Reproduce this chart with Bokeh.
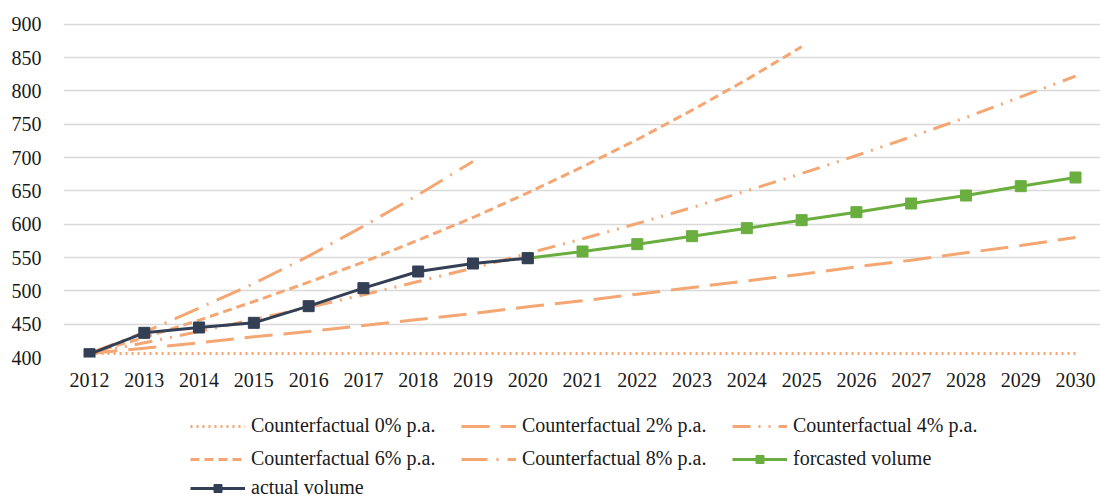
from bokeh.plotting import figure
from bokeh.models import Range1d, FixedTicker, Legend, LegendItem
from bokeh.layouts import column
from bokeh.embed import file_html
from bokeh.resources import INLINE

years = [2012, 2013, 2014, 2015, 2016, 2017, 2018, 2019, 2020, 2021,
         2022, 2023, 2024, 2025, 2026, 2027, 2028, 2029, 2030]
y_ticks = [400, 450, 500, 550, 600, 650, 700, 750, 800, 850, 900]

cf0 = [406] * 19
cf2 = [406, 414, 422, 431, 439, 448, 457, 466, 476, 485, 495, 505, 515, 525, 536, 546, 557, 568, 580]
cf4 = [406, 422, 439, 457, 475, 494, 514, 534, 556, 578, 601, 625, 650, 676, 703, 731, 760, 791, 822]
cf6_years = years[:14]
cf6 = [406, 430, 456, 484, 513, 543, 576, 610, 647, 686, 727, 771, 817, 866]
cf8_years = years[:8]
cf8 = [406, 438, 474, 511, 552, 597, 644, 694]

actual_years = years[:9]
actual = [405, 437, 445, 452, 477, 504, 529, 541, 549]
forecast_years = years[8:]
forecast = [549, 559, 570, 582, 594, 606, 618, 631, 643, 657, 670]

FONT = "Liberation Serif"
ORANGE = "#F4A673"
NAVY = "#333F55"
GREEN = "#6AAE3F"
FS = "20px"

DASH = {"0": "2 4", "2": "28 11", "4": "18 8 2 8 2 8", "6": "9 5", "8": "26 9 2 9"}

p = figure(width=1100, height=391, output_backend="svg", toolbar_location=None,
           x_range=Range1d(2011.525, 2030.456), y_range=Range1d(400, 910),
           min_border_left=63, min_border_top=17, min_border_right=0, min_border_bottom=34)
p.outline_line_color = None
p.xgrid.grid_line_color = None
p.ygrid.grid_line_color = "#D9D9D9"
p.ygrid.grid_line_width = 1.5
p.yaxis.ticker = FixedTicker(ticks=y_ticks)
p.xaxis.ticker = FixedTicker(ticks=years)
for ax in (p.xaxis[0], p.yaxis[0]):
    ax.axis_line_color = None
    ax.major_tick_line_color = None
    ax.minor_tick_line_color = None
    ax.major_label_text_font = FONT
    ax.major_label_text_font_size = FS
    ax.major_label_text_color = "#1a1a1a"
p.yaxis.major_label_standoff = 16
p.xaxis.major_label_standoff = 9

p.line(years, cf0, line_color=ORANGE, line_width=3, line_dash=DASH["0"])
p.line(years, cf2, line_color=ORANGE, line_width=3, line_dash=DASH["2"])
p.line(years, cf4, line_color=ORANGE, line_width=3, line_dash=DASH["4"])
p.line(cf6_years, cf6, line_color=ORANGE, line_width=3, line_dash=DASH["6"])
p.line(cf8_years, cf8, line_color=ORANGE, line_width=3, line_dash=DASH["8"])
p.line(forecast_years, forecast, line_color=GREEN, line_width=3)
p.scatter(forecast_years, forecast, marker="square", size=11, color=GREEN)
p.line(actual_years, actual, line_color=NAVY, line_width=3)
p.scatter(actual_years, actual, marker="square", size=11, color=NAVY)

# legend strip below the chart (renderers hold a single off-screen point)
lf = figure(width=1100, height=108, output_backend="svg", toolbar_location=None,
            x_range=Range1d(0, 1), y_range=Range1d(0, 1),
            min_border=0, min_border_left=0, min_border_right=0,
            min_border_top=0, min_border_bottom=0,
            x_axis_location=None, y_axis_location=None)
lf.outline_line_color = None
lf.grid.visible = False
e = [-5]
l0 = lf.line(e, e, line_color=ORANGE, line_width=3, line_dash=DASH["0"])
l2 = lf.line(e, e, line_color=ORANGE, line_width=3, line_dash=DASH["2"])
l4 = lf.line(e, e, line_color=ORANGE, line_width=3, line_dash=DASH["4"])
l6 = lf.line(e, e, line_color=ORANGE, line_width=3, line_dash=DASH["6"])
l8 = lf.line(e, e, line_color=ORANGE, line_width=3, line_dash=DASH["8"])
lfl = lf.line(e, e, line_color=GREEN, line_width=3)
lfm = lf.scatter(e, e, marker="square", size=11, color=GREEN)
lal = lf.line(e, e, line_color=NAVY, line_width=3)
lam = lf.scatter(e, e, marker="square", size=11, color=NAVY)

def mk_legend(items, y):
    return Legend(items=items, orientation="horizontal", location=(127, y),
                  border_line_color=None, background_fill_alpha=0,
                  label_text_font=FONT, label_text_font_size=FS,
                  label_text_color="#1a1a1a",
                  glyph_width=55, glyph_height=20, label_height=20, label_standoff=6,
                  label_width=210, spacing=0, padding=0, margin=0)

lf.add_layout(mk_legend([LegendItem(label="Counterfactual 0% p.a.", renderers=[l0]),
                         LegendItem(label="Counterfactual 2% p.a.", renderers=[l2]),
                         LegendItem(label="Counterfactual 4% p.a.", renderers=[l4])], 62), "center")
lf.add_layout(mk_legend([LegendItem(label="Counterfactual 6% p.a.", renderers=[l6]),
                         LegendItem(label="Counterfactual 8% p.a.", renderers=[l8]),
                         LegendItem(label="forcasted volume", renderers=[lfl, lfm])], 29), "center")
lf.add_layout(mk_legend([LegendItem(label="actual volume", renderers=[lal, lam])], 0), "center")

layout = column(p, lf, spacing=0)
open("out.html", "w").write(file_html(layout, INLINE))
